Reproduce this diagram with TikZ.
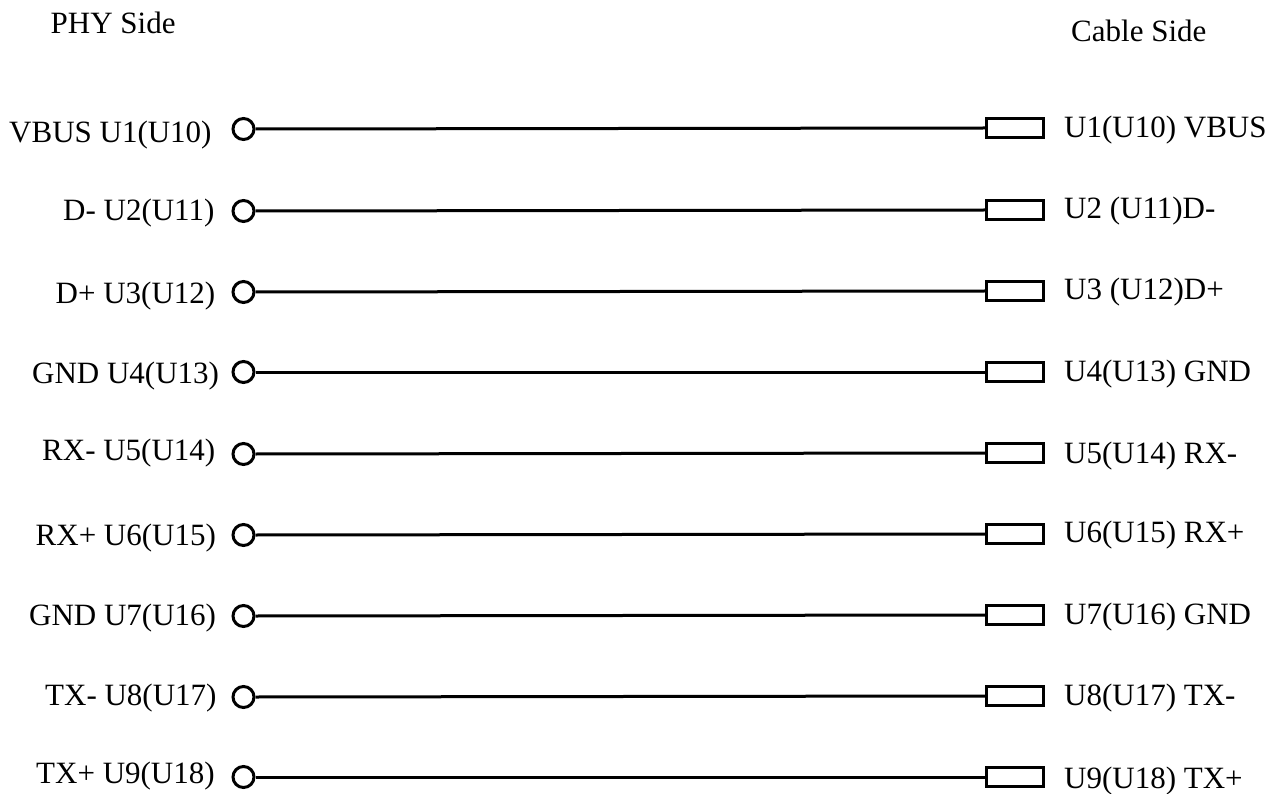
\documentclass[tikz,border=0pt]{standalone}
\usepackage{fontspec}
\setmainfont{Liberation Serif}
\begin{document}
\begin{tikzpicture}[x=1pt,y=-1pt,
  pin/.style={circle,draw=black,line width=3pt,minimum size=21pt,inner sep=0pt,fill=white},
  plug/.style={rectangle,draw=black,line width=3pt,minimum width=57.5pt,minimum height=18.5pt,inner sep=0pt,fill=white},
  wire/.style={draw=black,line width=3pt},
  lab/.style={anchor=base west,inner sep=0pt,font=\fontsize{31}{31}\selectfont}]
\useasboundingbox (0,0) rectangle (1277,794);
\node[lab] (phy) at (50.5,33.5) {PHY Side};
\node[lab] (cable) at (1071,42) {Cable Side};
\foreach \n/\cy/\ry/\lx/\ly/\ltext/\rtxty/\rtext in {
 a/129/128/9/143/VBUS U1(U10)/138/U1(U10) VBUS,
 b/211/210/63/221/D- U2(U11)/219/U2 (U11)D-,
 c/292/291/55.5/304/D+ U3(U12)/300/U3 (U12)D+,
 d/372/372/32/383.5/GND U4(U13)/381/U4(U13) GND,
 e/454/453/42/460.5/RX- U5(U14)/463/U5(U14) RX-,
 f/535/534/35.5/545.5/RX+ U6(U15)/542.5/U6(U15) RX+,
 g/616/615/29/625/GND U7(U16)/624/U7(U16) GND,
 h/697/696/45/705.5/TX- U8(U17)/705.5/U8(U17) TX-,
 i/777/777/36/783/TX+ U9(U18)/788/U9(U18) TX+}{
  \node[pin] (p\n) at (243.5,\cy) {};
  \node[plug] (q\n) at (1015,\ry) {};
  \draw[wire] (p\n.east) -- (q\n.west);
  \node[lab] (l\n) at (\lx,\ly) {\ltext};
  \node[lab] (r\n) at (1064,\rtxty) {\rtext};
}
\end{tikzpicture}
\end{document}
